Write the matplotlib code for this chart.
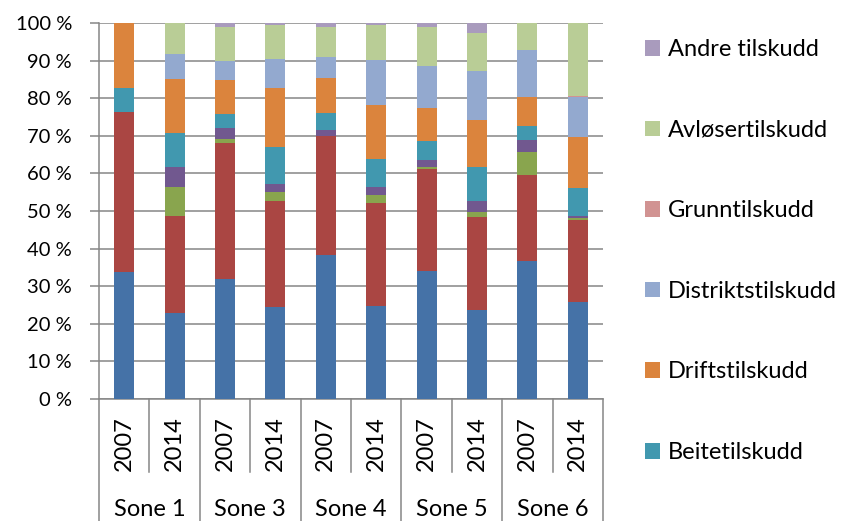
import numpy as np
import matplotlib
matplotlib.use('Agg')
import matplotlib.pyplot as plt
from matplotlib.transforms import blended_transform_factory

plt.rcParams['font.family'] = ['Lato', 'DejaVu Sans']

# kategorier
soner = ['Sone 1', 'Sone 3', 'Sone 4', 'Sone 5', 'Sone 6']
aar = ['2007', '2014']

# andeler (%) per stolpe, nedenfra og opp
blaa = [33.9, 23.0, 31.9, 24.4, 38.2, 24.7, 34.0, 23.6, 36.6, 25.7]
roed = [42.3, 25.7, 36.3, 28.3, 31.8, 27.4, 27.3, 24.7, 23.1, 21.8]
groenn = [0, 7.7, 1.0, 2.4, 0, 2.1, 0.5, 1.5, 6.0, 0.7]
lilla = [0, 5.4, 2.8, 2.0, 1.5, 2.1, 1.7, 2.9, 3.3, 0.5]
beite = [6.4, 9.0, 3.7, 9.9, 4.5, 7.6, 5.1, 9.0, 3.6, 7.4]
drift = [17.4, 14.4, 9.1, 15.6, 9.5, 14.2, 8.7, 12.4, 7.6, 13.6]
distrikt = [0, 6.5, 5.2, 7.8, 5.4, 12.0, 11.3, 13.2, 12.5, 10.6]
grunn = [0, 0, 0, 0, 0, 0, 0, 0, 0, 0.3]
avloeser = [0, 8.3, 8.9, 9.0, 8.1, 9.5, 10.4, 10.1, 7.3, 19.4]
andre = [0, 0, 1.1, 0.6, 1.0, 0.4, 1.0, 2.6, 0, 0]

serier = [blaa, roed, groenn, lilla, beite, drift, distrikt, grunn, avloeser, andre]
navn = ['', '', '', '', 'Beitetilskudd', 'Driftstilskudd', 'Distriktstilskudd',
        'Grunntilskudd', 'Avløsertilskudd', 'Andre tilskudd']
farger = ['#4572A7', '#AA4643', '#89A54E', '#71588F', '#4198AF', '#DB843D',
          '#93A9CF', '#D19392', '#B9CD96', '#A99BBD']

fig = plt.figure(figsize=(8.43, 5.21), dpi=100)
ax = fig.add_axes([99/843, 1-399/521, 504/843, 376/521])

x = np.arange(len(soner) * len(aar))
bunn = np.zeros(len(x))
handles = []
for verdi, n, f in zip(serier, navn, farger):
    b = ax.bar(x, verdi, bottom=bunn, width=0.4, color=f, label=n, zorder=3)
    handles.append(b)
    bunn += np.array(verdi)

grid_c = '#868686'
lw = 1.1
ax.set_xlim(-0.5, len(x) - 0.5)
ax.set_ylim(0, 100)
ax.set_yticks(np.arange(0, 101, 10))
ax.set_yticklabels(['%d %%' % v for v in range(0, 101, 10)], fontsize=14.5)
ax.yaxis.grid(True, color=grid_c, linewidth=lw, zorder=0)
for s in ['top', 'right']:
    ax.spines[s].set_visible(False)
ax.spines['left'].set_color(grid_c)
ax.spines['left'].set_linewidth(lw)
ax.spines['bottom'].set_color(grid_c)
ax.spines['bottom'].set_linewidth(lw)
ax.tick_params(axis='y', length=6.5, width=lw, color=grid_c, pad=13)

# flernivå x-akse
ax.set_xticks(x)
ax.set_xticklabels([])
ax.tick_params(axis='x', length=0)
tr = blended_transform_factory(ax.transData, ax.transAxes)
for i in x:
    ax.text(i, -0.12, aar[i % 2], rotation=90, ha='center', va='center',
            fontsize=17, transform=tr)
for i in range(len(soner)):
    ax.plot([2*i + 0.5, 2*i + 0.5], [0, -0.194], color=grid_c, lw=lw,
            transform=tr, clip_on=False)
    ax.text(2*i + 0.5, -0.293, soner[i], ha='center', va='center',
            fontsize=17, transform=tr)
for i in range(len(soner) + 1):
    ax.plot([2*i - 0.5, 2*i - 0.5], [0, -0.33], color=grid_c, lw=lw,
            transform=tr, clip_on=False)

leg_h = handles[4:][::-1]
leg_l = navn[4:][::-1]
fig.legend(leg_h, leg_l, loc='upper left', bbox_to_anchor=(645/843, 1-39/521),
           frameon=False, fontsize=17, labelspacing=2.525, handlelength=0.64,
           handleheight=0.64, handletextpad=0.34, borderpad=0, borderaxespad=0)

fig.savefig('out.png', dpi=100)
